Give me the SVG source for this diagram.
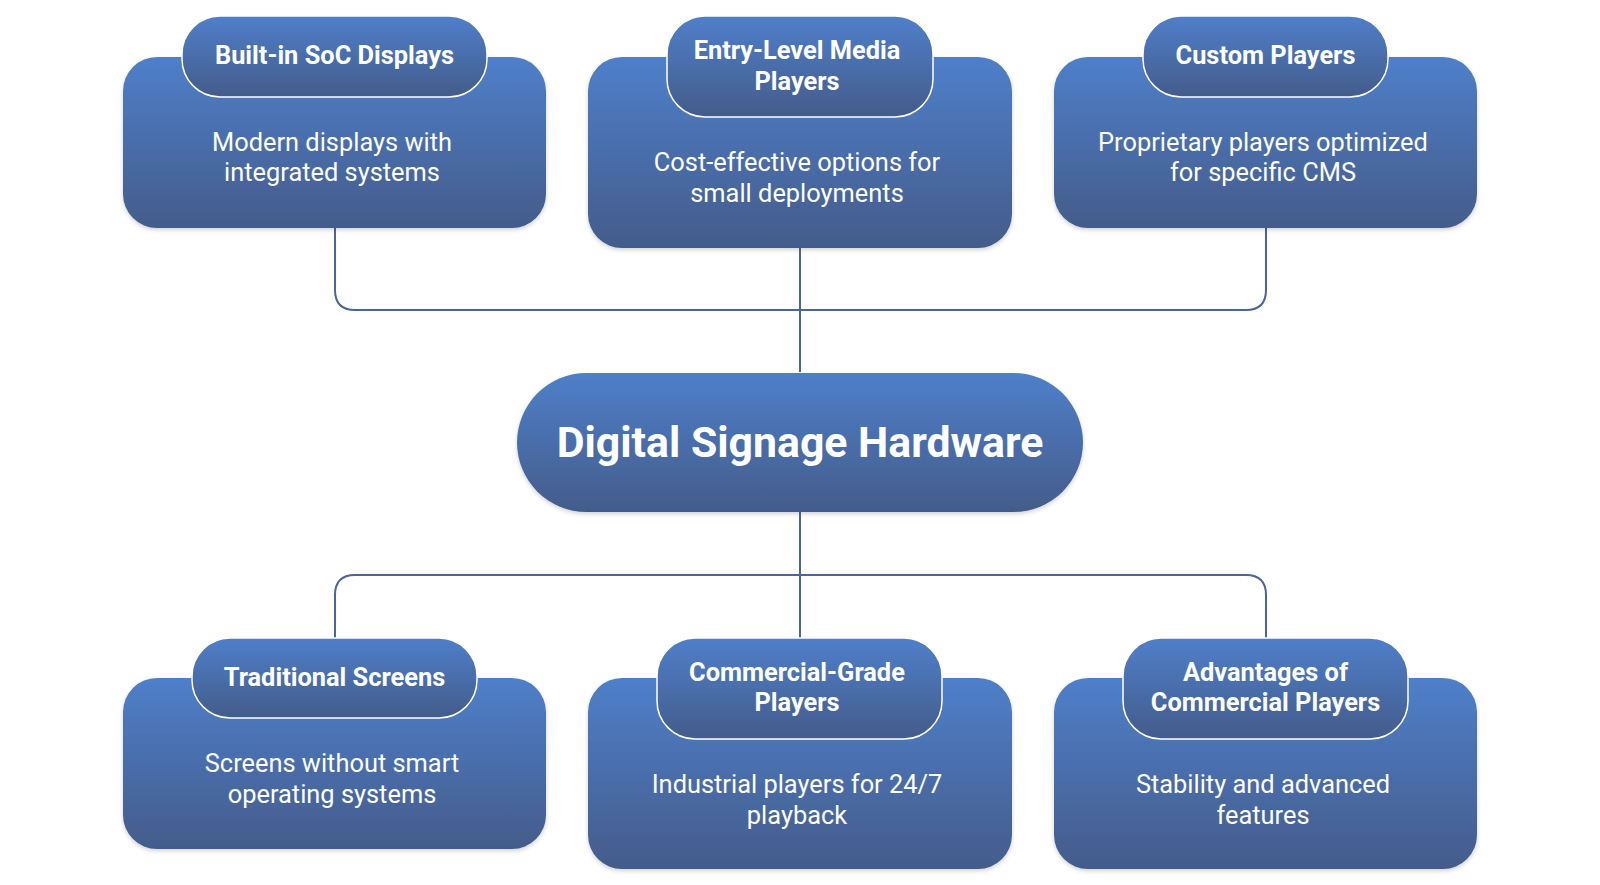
<svg xmlns="http://www.w3.org/2000/svg" width="1600" height="885" viewBox="0 0 1600 885">
  <defs>
    <linearGradient id="g" x1="0" y1="0" x2="0" y2="1">
      <stop offset="0" stop-color="#4F7FCA"/>
      <stop offset="1" stop-color="#435C8A"/>
    </linearGradient>
    <filter id="sh" x="-10%" y="-10%" width="120%" height="130%">
      <feDropShadow dx="0" dy="2" stdDeviation="2" flood-color="#000" flood-opacity="0.18"/>
    </filter>
    <style>
      .box { fill: url(#g); filter: url(#sh); }
      .hdr { fill: url(#g); stroke: #ffffff; stroke-width: 1.5; }
      .conn { fill: none; stroke: #4A6598; stroke-width: 2; }
      .ht { font-family: Roboto, "Liberation Sans", sans-serif; font-weight: 700; font-size: 25.4px; fill: #ffffff; text-anchor: middle; }
      .bt { font-family: Roboto, "Liberation Sans", sans-serif; font-weight: 400; font-size: 25.4px; fill: #ffffff; text-anchor: middle; }
      .tt { font-family: Roboto, "Liberation Sans", sans-serif; font-weight: 700; font-size: 42.8px; fill: #ffffff; text-anchor: middle; }
    </style>
  </defs>
  <rect width="1600" height="885" fill="#ffffff"/>

  <g id="connectors">
    <path class="conn" d="M335,228 V290 Q335,310 355,310 H1246 Q1266,310 1266,290 V228"/>
    <path class="conn" d="M800,248 V372"/>
    <path class="conn" d="M800,512 V638"/>
    <path class="conn" d="M335,638 V595 Q335,575 355,575 H1246 Q1266,575 1266,595 V638"/>
  </g>

  <g id="node-soc">
    <rect class="box" x="123" y="57" width="423" height="171" rx="34"/>
    <rect class="hdr" x="182" y="16" width="305" height="81" rx="38"/>
    <text class="ht" x="334.5" y="64">Built-in SoC Displays</text>
    <text class="bt" x="332" y="151">Modern displays with</text>
    <text class="bt" x="332" y="181">integrated systems</text>
  </g>

  <g id="node-entry">
    <rect class="box" x="588" y="57" width="424" height="191" rx="34"/>
    <rect class="hdr" x="667" y="16" width="266" height="101" rx="38"/>
    <text class="ht" x="797" y="59">Entry-Level Media</text>
    <text class="ht" x="797" y="89.5">Players</text>
    <text class="bt" x="797" y="171">Cost-effective options for</text>
    <text class="bt" x="797" y="201.5">small deployments</text>
  </g>

  <g id="node-custom">
    <rect class="box" x="1054" y="57" width="423" height="171" rx="34"/>
    <rect class="hdr" x="1143" y="16" width="245" height="81" rx="38"/>
    <text class="ht" x="1265.5" y="64">Custom Players</text>
    <text class="bt" x="1263" y="151">Proprietary players optimized</text>
    <text class="bt" x="1263" y="181">for specific CMS</text>
  </g>

  <g id="node-center">
    <rect class="box" x="517" y="373" width="566" height="139" rx="69.5"/>
    <text class="tt" x="800" y="457">Digital Signage Hardware</text>
  </g>

  <g id="node-traditional">
    <rect class="box" x="123" y="678" width="423" height="171" rx="34"/>
    <rect class="hdr" x="192" y="638" width="285" height="80" rx="38"/>
    <text class="ht" x="334.5" y="685.5">Traditional Screens</text>
    <text class="bt" x="332" y="772">Screens without smart</text>
    <text class="bt" x="332" y="803">operating systems</text>
  </g>

  <g id="node-commercial">
    <rect class="box" x="588" y="678" width="424" height="191" rx="34"/>
    <rect class="hdr" x="657" y="638" width="285" height="101" rx="38"/>
    <text class="ht" x="797" y="680.5">Commercial-Grade</text>
    <text class="ht" x="797" y="711">Players</text>
    <text class="bt" x="797" y="793">Industrial players for 24/7</text>
    <text class="bt" x="797" y="823.5">playback</text>
  </g>

  <g id="node-advantages">
    <rect class="box" x="1054" y="678" width="423" height="191" rx="34"/>
    <rect class="hdr" x="1123" y="638" width="285" height="101" rx="38"/>
    <text class="ht" x="1265.5" y="680.5">Advantages of</text>
    <text class="ht" x="1265.5" y="711">Commercial Players</text>
    <text class="bt" x="1263" y="793">Stability and advanced</text>
    <text class="bt" x="1263" y="823.5">features</text>
  </g>
</svg>
